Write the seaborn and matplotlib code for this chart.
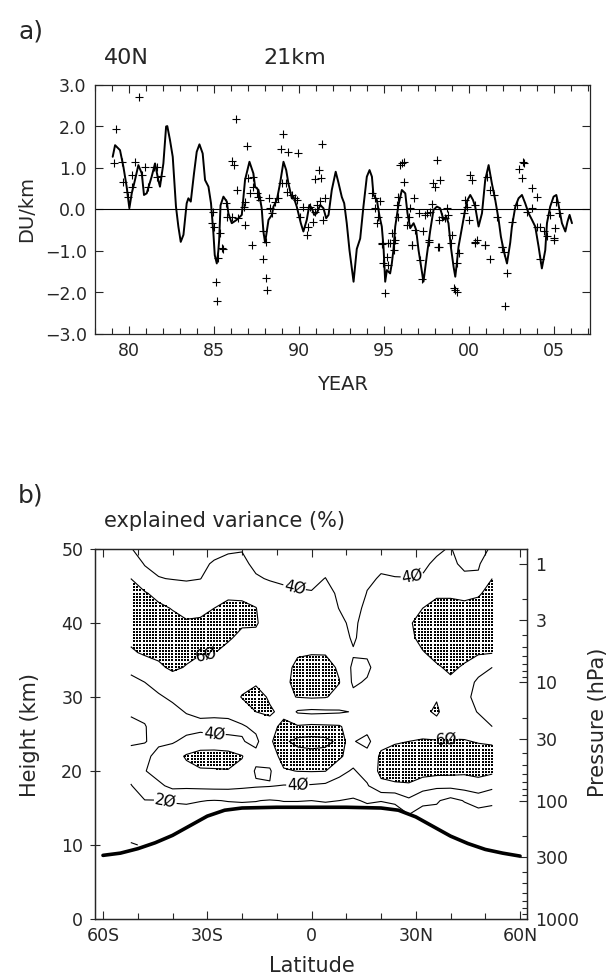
import numpy as np
import matplotlib
matplotlib.use("Agg")
import matplotlib.pyplot as plt
import seaborn as sns

sns.set_style("ticks")
plt.rcParams["font.family"] = ["DejaVu Sans"]

# ---------------- panel a data ----------------
years_line = [1979.04, 1979.18, 1979.47, 1979.67, 1979.86, 1980.02, 1980.16, 1980.35, 1980.55, 1980.75,
              1980.88, 1981.04, 1981.33, 1981.53, 1981.72, 1981.82, 1982.02, 1982.18, 1982.25, 1982.41,
              1982.57, 1982.76, 1982.9, 1983.04, 1983.2, 1983.39, 1983.49, 1983.63, 1983.82, 1983.98,
              1984.14, 1984.33, 1984.47, 1984.67, 1984.82, 1984.96, 1985.04, 1985.16, 1985.25, 1985.3,
              1985.38, 1985.55, 1985.75, 1985.84, 1986.04, 1986.33, 1986.63, 1986.82, 1987.08, 1987.31,
              1987.41, 1987.61, 1987.8, 1987.9, 1988.0, 1988.2, 1988.4, 1988.49, 1988.69, 1988.88,
              1989.08, 1989.24, 1989.37, 1989.57, 1989.67, 1989.86, 1990.1, 1990.25, 1990.45, 1990.6,
              1990.75, 1990.88, 1991.04, 1991.24, 1991.43, 1991.59, 1991.73, 1991.92, 1992.15, 1992.31,
              1992.51, 1992.65, 1992.8, 1992.96, 1993.2, 1993.39, 1993.59, 1993.78, 1993.98, 1994.14,
              1994.28, 1994.37, 1994.57, 1994.73, 1994.86, 1994.96, 1995.06, 1995.16, 1995.35, 1995.45,
              1995.55, 1995.65, 1995.84, 1996.04, 1996.24, 1996.37, 1996.53, 1996.73, 1996.88, 1997.02,
              1997.31, 1997.51, 1997.71, 1997.9, 1998.1, 1998.29, 1998.49, 1998.65, 1998.78, 1998.92,
              1999.08, 1999.18, 1999.27, 1999.37, 1999.57, 1999.76, 1999.9, 2000.06, 2000.22, 2000.35,
              2000.55, 2000.75, 2000.94, 2001.14, 2001.33, 2001.53, 2001.73, 2001.86, 2002.02, 2002.22,
              2002.41, 2002.51, 2002.71, 2002.9, 2003.1, 2003.29, 2003.49, 2003.69, 2003.88, 2004.08,
              2004.27, 2004.47, 2004.57, 2004.76, 2004.96, 2005.12, 2005.25, 2005.45, 2005.65, 2005.78,
              2005.9, 2006.04]
du_line = [1.27, 1.55, 1.43, 1.03, 0.55, 0.03, 0.39, 0.71, 1.07, 0.87,
           0.35, 0.39, 0.79, 1.11, 0.71, 0.55, 1.11, 2.0, 2.01, 1.67,
           1.27, 0.07, -0.41, -0.78, -0.61, 0.15, 0.27, 0.19, 0.87, 1.39,
           1.57, 1.35, 0.71, 0.55, 0.15, -0.57, -1.1, -1.3, -1.0, -0.73,
           0.1, 0.31, 0.19, -0.09, -0.33, -0.25, -0.13, 0.71, 1.15, 0.87,
           0.55, 0.47, 0.03, -0.53, -0.8, -0.25, -0.13, 0.07, 0.23, 0.63,
           1.15, 0.95, 0.63, 0.27, 0.31, 0.07, -0.33, -0.53, -0.25, 0.11,
           0.03, -0.13, -0.09, 0.11, 0.03, -0.21, -0.13, 0.47, 0.91, 0.65,
           0.3, 0.15, -0.33, -0.98, -1.74, -0.95, -0.7, 0.07, 0.79, 0.95,
           0.79, 0.35, 0.23, -0.17, -0.41, -0.9, -1.74, -1.46, -1.54, -1.3,
           -0.95, -0.41, 0.11, 0.47, 0.39, -0.09, -0.45, -0.33, -0.49, -0.98,
           -1.74, -1.1, -0.5, -0.01, 0.07, 0.03, -0.25, -0.17, -0.33, -0.9,
           -1.38, -1.62, -1.3, -0.9, -0.45, -0.01, 0.23, 0.35, 0.23, 0.07,
           -0.41, -0.09, 0.71, 1.07, 0.63, 0.23, -0.25, -0.65, -0.98, -1.3,
           -0.8, -0.41, 0.07, 0.27, 0.35, 0.15, -0.09, -0.25, -0.41, -0.9,
           -1.42, -0.98, -0.33, 0.07, 0.31, 0.35, 0.11, -0.33, -0.53, -0.29,
           -0.13, -0.33]

years_obs = [1980.61, 1979.24, 1979.12, 1979.57, 1979.67, 1979.86, 1979.96, 1980.16, 1980.16, 1980.35,
             1980.75, 1980.94, 1981.14, 1981.47, 1981.63, 1981.86, 1981.67, 1986.04, 1986.18, 1986.27,
             1986.33, 1986.96, 1987.02, 1987.31, 1987.27, 1987.12, 1987.51, 1987.61, 1987.71, 1988.2,
             1988.29, 1988.4, 1988.59, 1988.78, 1989.08, 1988.94, 1989.37, 1989.96, 1988.98, 1989.24,
             1989.27, 1989.57, 1989.77, 1989.86, 1990.06, 1990.25, 1990.45, 1990.55, 1990.65, 1990.84,
             1990.94, 1991.04, 1991.24, 1991.43, 1991.33, 1991.14, 1990.94, 1991.29, 1991.53, 1985.7,
             1985.75, 1986.04, 1986.43, 1986.82, 1986.82, 1986.73, 1987.21, 1987.86, 1984.86, 1985.0,
             1985.35, 1985.45, 1984.96,
             1985.55, 1985.12, 1985.2, 1985.25, 1987.9, 1988.04, 1988.1, 1988.06, 1994.86, 1995.06,
             1994.96, 1995.16, 1995.21, 1995.35, 1995.55, 1996.63, 1997.12, 1997.21, 1997.61, 1998.14,
             1999.08, 1999.27, 1999.18, 1999.37, 1999.27, 2000.35, 2000.94, 2001.24, 2001.92, 2002.02,
             2002.12, 2002.22, 2004.18, 2004.96,
             1994.28, 1994.47, 1994.73, 1994.47, 1994.66, 1994.57, 1995.45, 1995.65, 1994.86, 1995.25,
             1995.55, 1995.94, 1996.18, 1996.04, 1996.14, 1995.84, 1995.74, 1995.84, 1996.33, 1996.43,
             1996.53, 1996.73, 1996.82, 1996.63, 1997.02, 1997.31, 1997.41, 1997.51, 1997.61, 1997.71,
             1997.8, 1997.86, 1998.0, 1998.29, 1998.1, 1998.2, 1998.39, 1998.59, 1998.69, 1998.78,
             1998.2, 1998.98, 1998.9, 1999.69, 1999.86, 1999.76, 2000.06, 2000.16, 2000.35, 1999.96,
             2000.35, 2000.45, 2000.94, 2001.04, 2001.2, 2001.43, 2001.63, 2001.92, 2002.9, 2003.16,
             2003.1, 2003.24, 2003.69, 2003.98, 2002.8, 2003.39, 2003.69, 2002.51, 2003.98, 2004.18,
             2004.38, 2004.57, 2004.96, 2005.06, 2004.76, 2005.12, 2005.25]
du_obs = [2.70, 1.93, 1.11, 1.15, 0.67, 0.43, 0.31, 0.55, 0.83, 1.15,
          0.83, 1.02, 0.55, 1.02, 1.03, 0.81, 0.79, 1.18, 1.07, 2.17,
          0.47, 1.53, 0.75, 0.78, 0.55, 0.39, 0.39, 0.31, 0.23, 0.27,
          0.03, -0.09, 0.19, 0.27, 1.82, 1.45, 1.39, 1.35, 0.63, 0.63,
          0.43, 0.35, 0.27, 0.23, -0.17, 0.07, -0.61, -0.41, 0.07, -0.29,
          -0.05, 0.11, 0.21, -0.25, 1.58, 0.95, 0.73, 0.77, 0.27, 0.15,
          -0.17, -0.17, -0.21, -0.37, 0.19, 0.07, -0.86, -0.53, -0.33, -0.41,
          -0.57, -0.93, -0.05,
          -0.94, -1.74, -2.2, -1.18, -1.2, -1.66, -1.94, -0.78, -0.83, -2.02,
          -1.28, -1.14, -1.34, -0.81, -0.98, -0.86, -1.22, -1.68, -0.78, -0.9,
          -1.9, -1.98, -1.94, -1.04, -1.3, -0.8, -0.86, -1.2, -0.9, -1.02,
          -2.33, -1.52, -1.2, -0.73,
          0.39, 0.27, 0.21, 0.03, -0.17, -0.33, -0.57, -0.73, -0.81, -0.81,
          -0.81, 1.07, 1.15, 1.13, 0.67, 0.31, 0.11, -0.17, -0.37, -0.17,
          0.03, 0.27, -0.49, -0.86, -0.09, -0.53, -0.13, -0.09, -0.73, -0.05,
          0.13, 0.63, 0.55, 0.71, 1.19, -0.25, -0.17, -0.21, 0.03, -0.13,
          -0.9, -0.61, -0.81, -0.09, 0.07, 0.23, 0.83, 0.71, 0.11, -0.25,
          -0.78, -0.73, -0.86, 0.79, 0.47, 0.35, -0.17, -0.9, 0.97, 1.15,
          0.75, 1.13, 0.51, 0.31, 0.11, -0.05, 0.03, -0.29, -0.41, -0.41,
          -0.53, -0.65, -0.69, -0.45, -0.13, 0.19, -0.09]

year_ticks = [1980, 1985, 1990, 1995, 2000, 2005]
year_labels = ["80", "85", "90", "95", "00", "05"]
du_ticks = [-3, -2, -1, 0, 1, 2, 3]

# ---------------- panel b data ----------------
lats = [-52, -48, -44, -40, -36, -32, -28, -24, -20, -16, -12, -8, -4, 0,
        4, 8, 12, 16, 20, 24, 28, 32, 36, 40, 44, 48, 52]
heights = [50, 48, 46, 44, 42, 40, 38, 36, 34, 32, 30, 28, 26, 24, 22, 20, 18, 16, 14, 12, 10]
# explained variance (%) profiles, one list per latitude, from 50 km down to 10 km
variance_cols = [
    [40.5, 50, 60, 66, 68, 67, 63, 58, 45, 35, 32, 38, 44, 42, 35, 27, 19, 14, 12, 15, 21],
    [36, 39, 47, 62, 67, 68, 66, 62, 52, 40, 35, 36, 41, 40.5, 36, 39, 30, 19.5, 14, 12, 19],
    [35, 37, 40.5, 54, 64, 68, 68, 64, 57, 46, 38, 33, 32, 37, 45, 48, 36, 19.5, 15, 13, 12],
    [35, 37, 39.5, 48, 59, 66, 69, 68, 63, 52, 43, 35, 31, 38, 52, 54, 45, 21, 15, 13, 11],
    [36, 38, 39, 45, 54, 62, 66, 64, 59, 50, 45, 41, 33, 45, 62, 55, 44, 22, 14, 12, 10],
    [37, 39, 39.8, 46, 55, 63, 65, 61, 55, 50, 47, 44, 35, 48, 68, 58, 45, 20.5, 13, 11, 9],
    [38.5, 40.5, 44, 52, 60, 66, 65, 60.5, 54, 50, 47, 44, 34, 46, 70, 58, 46, 19.5, 13, 10, 9],
    [39, 42, 46, 56, 65, 69, 62, 55, 52, 52, 50, 45, 34, 45, 68, 59, 46, 20.5, 13, 10, 9],
    [39.5, 42, 46, 56, 64, 62, 56, 52, 51, 54, 61, 50, 38, 41, 61, 55, 44, 21, 13, 10, 9],
    [36, 38, 41, 52, 60.5, 62, 55, 50, 49, 58, 66, 60, 44, 36, 45, 38, 42, 20.5, 13, 10, 9],
    [34, 36, 39.3, 44, 48, 50, 50, 50, 50, 52, 58, 62, 55, 56, 48, 38, 41, 19, 12, 10, 9],
    [33, 35, 38.5, 42, 46, 49, 51, 53, 54, 55, 57, 56, 64, 76, 68, 58, 39, 20.5, 12, 10, 9],
    [32, 34, 38, 41, 46, 50, 53, 58, 64, 66, 60.5, 38, 62, 86, 70, 60.5, 39, 20.5, 12, 10, 9],
    [32, 34, 38, 40.5, 46, 51, 55, 59, 66, 70, 62, 36, 64, 88, 72, 61, 38, 20, 12, 10, 9],
    [34, 37, 40.2, 44, 48, 52, 56, 59, 65, 68, 61, 37, 63, 86, 71, 60.5, 36, 21, 12, 10, 9],
    [30, 32, 35, 38, 39.5, 44, 50, 55, 58, 60.5, 55, 38, 62, 75, 64, 45, 33, 20, 12, 10, 9],
    [28, 30, 30, 32, 34, 36, 37, 42, 36, 37, 45, 41, 50, 41, 48, 38, 30, 18, 12, 10, 9],
    [33, 36, 38, 40.5, 44, 48, 50, 43, 36, 42, 48, 50, 46, 35, 46, 48, 38, 22, 12, 10, 9],
    [36, 38, 41, 44, 46, 48, 50, 51, 51, 50, 50, 51, 52, 55, 63, 64, 56, 20.5, 12, 10, 9],
    [36, 38, 40.3, 44, 47, 50, 52, 53, 53, 52, 51, 51, 52, 58, 68, 68, 57, 22, 14, 10, 9],
    [36, 38, 40.2, 45, 52, 58, 56, 54, 52, 51, 51, 51, 53, 60, 69, 68, 58, 36, 19, 12, 9],
    [37, 39, 40.5, 50, 60, 66, 65, 59, 54, 53, 56, 57, 55, 61, 70, 68, 49, 24, 13, 10, 9],
    [39, 41, 46, 58, 64, 70, 70, 65, 58, 54, 59, 62, 55, 60.5, 68, 67, 44, 22, 14, 10, 9],
    [40.5, 42, 48, 58, 64, 70, 71, 68, 63, 57, 53, 52, 55, 61, 68, 66, 45, 14, 11, 10, 9],
    [36, 38, 42, 56, 64, 69, 69, 65, 58, 50, 45, 47, 53, 61, 66, 64, 48, 21, 11, 10, 9],
    [35, 38.5, 42, 58, 66, 70, 69, 62, 48, 36, 34, 39, 48, 59, 67, 66, 52, 28, 12, 10, 9],
    [42, 50, 60, 66, 70, 69, 67, 61, 40, 33, 32, 34, 40, 58, 66, 64, 45, 24, 12, 10, 9],
]
contour_levels = [20, 40, 60, 80]
stipple_threshold = 60

trop_lat = [-60, -55, -50, -45, -40, -35, -30, -25, -20, -10, 0, 10, 20, 25, 30, 35, 40, 45, 50, 55, 60]
trop_z = [8.6, 8.9, 9.5, 10.3, 11.3, 12.6, 13.9, 14.7, 15.0, 15.1, 15.1, 15.1, 15.0, 14.7, 13.8, 12.5,
          11.2, 10.2, 9.4, 8.9, 8.5]

lat_ticks = [-60, -30, 0, 30, 60]
lat_labels = ["60S", "30S", "0", "30N", "60N"]
height_ticks = [0, 10, 20, 30, 40, 50]
pressure_major = [1000, 300, 100, 30, 10, 3, 1]
pressure_minor = [2, 4, 5, 6, 7, 8, 9, 20, 40, 50, 60, 70, 80, 90, 200, 400, 500, 600, 700, 800, 900]


def p2z(p):
    return 16.0 * np.log10(1000.0 / np.asarray(p, dtype=float))


fig = plt.figure(figsize=(6.14, 9.8), dpi=100)
W, H = 614.0, 980.0

# ================= panel a =================
axa = fig.add_axes([95 / W, 1 - 334 / H, 495 / W, 249 / H])
axa.axhline(0, color="black", lw=0.8, zorder=1)
sns.lineplot(x=years_line, y=du_line, ax=axa, color="black", lw=1.4, sort=False, estimator=None)
sns.scatterplot(x=years_obs, y=du_obs, ax=axa, marker="+", color="black", s=28, linewidth=0.8)
axa.set_xlim(1978, 2007.1)
axa.set_ylim(-3, 3)
axa.set_xticks(year_ticks)
axa.set_xticklabels(year_labels)
axa.set_xticks(np.arange(1978, 2008), minor=True)
axa.set_yticks(du_ticks)
axa.set_yticklabels([("%.1f" % v).replace("-", "\u2212") for v in du_ticks])
axa.tick_params(which="major", direction="in", top=True, right=True, length=6, width=0.8,
                labelsize=12.5, pad=6)
axa.tick_params(which="minor", direction="in", top=True, right=False, length=4, width=0.8)
axa.tick_params(axis="y", which="minor", left=False, right=False)
for s in axa.spines.values():
    s.set_linewidth(0.9)
axa.set_xlabel("")
axa.set_ylabel("")

fig.text(18 / W, 1 - 32 / H, "a)", fontsize=18, ha="left", va="center")
fig.text(104 / W, 1 - 58 / H, "40N", fontsize=16, ha="left", va="center")
fig.text(263 / W, 1 - 58 / H, "21km", fontsize=16, ha="left", va="center")
fig.text(27 / W, 1 - 209 / H, "DU/km", fontsize=14, rotation=90, ha="center", va="center")
fig.text(343 / W, 1 - 384 / H, "YEAR", fontsize=14, ha="center", va="center")

# ================= panel b =================
axb = fig.add_axes([95 / W, 1 - 919 / H, 432 / W, 370 / H])
LAT, Z = np.meshgrid(lats, heights)
VAR = np.array(variance_cols, dtype=float).T

# region above the stipple threshold, used to place the stipple dots
cf = axb.contourf(LAT, Z, VAR, levels=[stipple_threshold, 1000])
region_paths = cf.get_paths()
cf.remove()
dot_lat, dot_z = np.meshgrid(np.arange(min(lats), max(lats) + 0.01, 0.92),
                             np.arange(min(heights), max(heights) + 0.01, 0.43))
pts = np.column_stack([dot_lat.ravel(), dot_z.ravel()])
inside = np.zeros(len(pts), dtype=bool)
for pth in region_paths:
    if len(pth.vertices):
        inside |= pth.contains_points(pts)
axb.scatter(pts[inside, 0], pts[inside, 1], s=0.8, marker="s", color="black", linewidths=0)

cs = axb.contour(LAT, Z, VAR, levels=contour_levels, colors="black", linewidths=0.8)
label_pos = [(-5, 44.6), (29, 46.2), (-30, 35.2), (-28, 25.0), (-4, 18.4), (39, 24.0), (-42, 16.0)]
axb.clabel(cs, manual=label_pos, fmt=lambda v: str(int(v)).replace("0", "\u00d8"),
           fontsize=11, inline=True, inline_spacing=3)

sns.lineplot(x=trop_lat, y=trop_z, ax=axb, color="black", lw=2.6, sort=False, estimator=None)

axb.set_xlim(-62.3, 62)
axb.set_ylim(0, 50)
axb.set_xticks(lat_ticks)
axb.set_xticklabels(lat_labels)
axb.set_xticks(np.arange(-60, 61, 10), minor=True)
axb.set_yticks(height_ticks)
axb.tick_params(which="major", direction="inout", top=True, right=False, length=7, width=0.8,
                labelsize=12.5, pad=5)
axb.tick_params(axis="x", which="major", direction="in", length=6, pad=6)
axb.tick_params(which="minor", direction="in", top=True, right=False, length=4, width=0.8)
axb.tick_params(axis="y", which="minor", left=False)
axb.set_xlabel("")
axb.set_ylabel("")
for s in axb.spines.values():
    s.set_linewidth(0.9)

ax2 = axb.twinx()
ax2.set_ylim(0, 50)
ax2.set_yticks(p2z(pressure_major))
ax2.set_yticklabels([str(p) for p in pressure_major])
ax2.set_yticks(p2z(pressure_minor), minor=True)
ax2.tick_params(which="major", direction="in", length=6, width=0.8, labelsize=12.5, pad=6)
ax2.tick_params(which="minor", direction="in", length=3.5, width=0.8)
for s in ax2.spines.values():
    s.set_linewidth(0.9)

fig.text(18 / W, 1 - 496 / H, "b)", fontsize=18, ha="left", va="center")
fig.text(104 / W, 1 - 521 / H, "explained variance (%)", fontsize=15, ha="left", va="center")
fig.text(30 / W, 1 - 735 / H, "Height (km)", fontsize=15, rotation=90, ha="center", va="center")
fig.text(598 / W, 1 - 722 / H, "Pressure (hPa)", fontsize=15, rotation=90, ha="center", va="center")
fig.text(312 / W, 1 - 966 / H, "Latitude", fontsize=15, ha="center", va="center")

fig.savefig("out.png", dpi=100)
